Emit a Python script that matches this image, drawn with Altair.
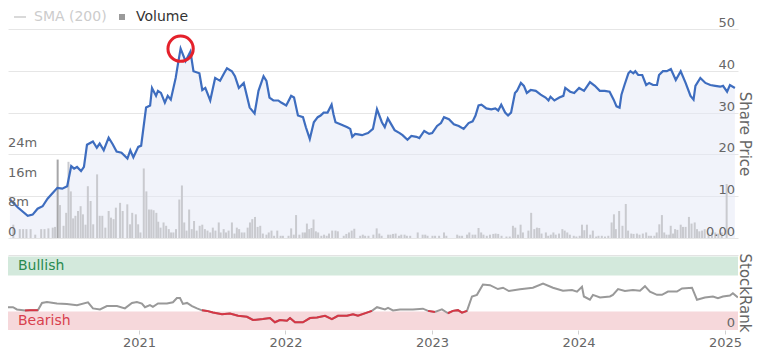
import altair as alt
import pandas as pd

# ---------------- data ----------------
price_year = [
    2020.085, 2020.140, 2020.208, 2020.242, 2020.276, 2020.311, 2020.345, 2020.379, 2020.413, 2020.447,
    2020.481, 2020.509, 2020.529, 2020.549, 2020.577, 2020.597, 2020.618, 2020.659, 2020.686, 2020.706,
    2020.734, 2020.768, 2020.795, 2020.823, 2020.857, 2020.898, 2020.918, 2020.939, 2020.973, 2020.993,
    2021.027, 2021.055, 2021.068, 2021.096, 2021.109, 2021.130, 2021.157, 2021.177, 2021.198, 2021.232,
    2021.246, 2021.266, 2021.300, 2021.334, 2021.355, 2021.396, 2021.416, 2021.437, 2021.471, 2021.505,
    2021.539, 2021.567, 2021.587, 2021.621, 2021.642, 2021.669, 2021.703, 2021.744, 2021.778, 2021.805,
    2021.840, 2021.860, 2021.881, 2021.908, 2021.942, 2021.962, 2021.997, 2022.031, 2022.051, 2022.078,
    2022.113, 2022.133, 2022.160, 2022.188, 2022.215, 2022.235, 2022.256, 2022.283, 2022.311, 2022.324,
    2022.338, 2022.372, 2022.420, 2022.440, 2022.454, 2022.474, 2022.495, 2022.522, 2022.543, 2022.563,
    2022.597, 2022.625, 2022.659, 2022.679, 2022.700, 2022.727, 2022.747, 2022.782, 2022.802, 2022.836,
    2022.863, 2022.898, 2022.918, 2022.952, 2022.986, 2023.007, 2023.041, 2023.068, 2023.089, 2023.123,
    2023.157, 2023.191, 2023.225, 2023.259, 2023.287, 2023.307, 2023.328, 2023.348, 2023.382, 2023.416,
    2023.444, 2023.464, 2023.485, 2023.512, 2023.532, 2023.553, 2023.580, 2023.594, 2023.621, 2023.642,
    2023.662, 2023.689, 2023.724, 2023.758, 2023.792, 2023.812, 2023.826, 2023.853, 2023.887, 2023.915,
    2023.928, 2023.962, 2023.990, 2024.024, 2024.058, 2024.099, 2024.133, 2024.167, 2024.201, 2024.235,
    2024.263, 2024.283, 2024.304, 2024.317, 2024.338, 2024.365, 2024.379, 2024.399, 2024.413, 2024.433,
    2024.461, 2024.488, 2024.509, 2024.536, 2024.563, 2024.577, 2024.604, 2024.631, 2024.659, 2024.693,
    2024.727, 2024.761, 2024.795, 2024.816, 2024.829, 2024.863, 2024.898, 2024.932, 2024.966, 2025.000,
    2025.020, 2025.048, 2025.068, 2025.102,
]
price_value = [
    9.2, 7.3, 5.3, 5.6, 7.0, 7.6, 9.4, 10.7, 12.0, 11.8,
    12.4, 17.2, 16.6, 17.0, 16.0, 17.0, 22.3, 23.1, 21.6, 22.6,
    21.0, 24.0, 22.5, 20.7, 20.4, 19.0, 21.0, 19.3, 21.8, 22.1,
    31.2, 31.7, 35.9, 34.0, 35.2, 34.7, 32.4, 34.0, 33.1, 38.3,
    41.3, 45.3, 42.3, 44.6, 39.9, 39.4, 35.4, 35.9, 32.9, 38.3,
    37.6, 39.4, 40.6, 39.9, 38.7, 35.9, 37.1, 31.2, 29.8, 35.2,
    38.7, 37.6, 33.6, 32.9, 32.9, 32.4, 31.7, 34.0, 33.6, 29.3,
    28.9, 26.5, 23.7, 27.7, 28.9, 29.3, 30.0, 30.0, 31.9, 29.6,
    27.7, 27.2, 26.5, 26.1, 24.2, 24.9, 24.8, 24.6, 24.9, 25.1,
    26.1, 30.8, 27.7, 26.5, 28.6, 27.0, 25.8, 25.1, 24.6, 23.5,
    24.4, 24.2, 23.9, 25.6, 24.9, 25.1, 26.8, 27.5, 28.9, 28.4,
    27.2, 26.8, 26.1, 27.5, 27.9, 29.3, 31.7, 31.9, 31.0, 30.8,
    31.0, 30.5, 31.9, 30.0, 29.3, 30.0, 34.7, 35.2, 37.1, 36.4,
    34.7, 35.4, 35.2, 34.3, 33.6, 32.9, 33.8, 32.9, 33.6, 34.0,
    35.9, 35.0, 34.7, 35.9, 35.2, 37.3, 36.4, 35.2, 35.2, 35.0,
    33.1, 31.5, 31.2, 34.3, 36.6, 39.4, 39.9, 39.4, 39.9, 39.0,
    39.0, 36.6, 37.1, 36.6, 36.6, 39.0, 39.9, 39.9, 40.4, 37.8,
    39.9, 37.1, 34.0, 33.1, 36.4, 38.3, 37.1, 36.6, 36.4, 36.2,
    36.4, 35.0, 36.6, 35.9,
]

# volume in millions
vol_year = [
    2020.108, 2020.153, 2020.176, 2020.199, 2020.228, 2020.260, 2020.301, 2020.324, 2020.351, 2020.381,
    2020.397, 2020.415, 2020.431, 2020.456, 2020.474, 2020.490, 2020.506, 2020.522, 2020.538, 2020.556,
    2020.574, 2020.590, 2020.608, 2020.624, 2020.643, 2020.661, 2020.688, 2020.706, 2020.724, 2020.745,
    2020.768, 2020.784, 2020.802, 2020.818, 2020.847, 2020.865, 2020.897, 2020.916, 2020.931, 2020.956,
    2020.972, 2020.988, 2021.011, 2021.029, 2021.047, 2021.063, 2021.079, 2021.098, 2021.111, 2021.127,
    2021.148, 2021.166, 2021.184, 2021.200, 2021.216, 2021.234, 2021.257, 2021.275, 2021.291, 2021.307,
    2021.325, 2021.343, 2021.359, 2021.377, 2021.398, 2021.416, 2021.434, 2021.452, 2021.471, 2021.489,
    2021.507, 2021.530, 2021.543, 2021.564, 2021.580, 2021.598, 2021.621, 2021.639, 2021.655, 2021.671,
    2021.689, 2021.707, 2021.730, 2021.746, 2021.762, 2021.781, 2021.799, 2021.817, 2021.835, 2021.860,
    2021.876, 2021.895, 2021.913, 2021.935, 2021.958, 2021.974, 2022.013, 2022.031, 2022.049, 2022.065,
    2022.088, 2022.111, 2022.127, 2022.140, 2022.156, 2022.172, 2022.186, 2022.202, 2022.218, 2022.240,
    2022.259, 2022.277, 2022.293, 2022.315, 2022.338, 2022.354, 2022.395, 2022.413, 2022.431, 2022.450,
    2022.468, 2022.509, 2022.527, 2022.543, 2022.566, 2022.600, 2022.623, 2022.641, 2022.657, 2022.702,
    2022.718, 2022.736, 2022.754, 2022.777, 2022.793, 2022.816, 2022.832, 2022.855, 2022.907, 2022.941,
    2022.959, 2022.975, 2023.009, 2023.027, 2023.055, 2023.089, 2023.105, 2023.180, 2023.196, 2023.214,
    2023.248, 2023.264, 2023.287, 2023.305, 2023.328, 2023.346, 2023.362, 2023.385, 2023.407, 2023.430,
    2023.446, 2023.464, 2023.487, 2023.521, 2023.544, 2023.566, 2023.582, 2023.601, 2023.619, 2023.635,
    2023.673, 2023.692, 2023.714, 2023.732, 2023.748, 2023.764, 2023.794, 2023.810, 2023.828, 2023.846,
    2023.862, 2023.885, 2023.908, 2023.924, 2023.942, 2023.960, 2023.987, 2024.005, 2024.028, 2024.044,
    2024.060, 2024.078, 2024.101, 2024.119, 2024.142, 2024.158, 2024.181, 2024.203, 2024.226, 2024.249,
    2024.265, 2024.278, 2024.301, 2024.324, 2024.347, 2024.363, 2024.385, 2024.401, 2024.424, 2024.442,
    2024.465, 2024.488, 2024.506, 2024.522, 2024.545, 2024.561, 2024.579, 2024.597, 2024.613, 2024.629,
    2024.647, 2024.658, 2024.674, 2024.688, 2024.704, 2024.727, 2024.743, 2024.761, 2024.784, 2024.802,
    2024.824, 2024.840, 2024.856, 2024.875, 2024.893, 2024.920, 2024.943, 2024.966, 2024.988, 2025.011,
    2025.045,
]
vol_value = [
    3.6, 2.4, 2.4, 2.4, 2.4, 0.9, 2.4, 2.4, 2.6, 2.8,
    3.0, 21.2, 8.9, 3.3, 6.8, 20.6, 12.6, 5.3, 6.0, 7.3,
    8.6, 6.4, 3.6, 14.0, 10.0, 3.7, 17.2, 6.0, 6.0, 2.8,
    7.3, 5.5, 5.1, 8.2, 9.5, 7.3, 9.1, 3.7, 6.8, 6.4,
    3.7, 1.5, 18.8, 12.6, 7.7, 7.7, 7.5, 6.8, 4.4, 2.8,
    4.2, 3.3, 2.4, 1.5, 1.5, 2.4, 10.4, 14.2, 4.2, 2.0,
    7.7, 2.4, 4.6, 2.0, 3.3, 3.6, 2.4, 2.0, 1.5, 2.8,
    2.0, 4.2, 1.5, 2.4, 1.5, 2.0, 4.2, 1.2, 2.8, 2.4,
    1.5, 1.5, 2.8, 4.2, 5.1, 5.7, 3.0, 3.3, 1.2, 0.9,
    1.5, 2.0, 0.6, 2.0, 0.6, 0.6, 0.6, 2.6, 0.9, 6.2,
    0.9, 1.5, 1.5, 3.9, 2.4, 2.7, 5.0, 1.8, 1.5, 0.6,
    0.9, 0.6, 1.2, 2.0, 2.0, 1.8, 0.6, 1.1, 1.5, 2.0,
    2.5, 0.6, 0.9, 0.6, 0.6, 0.9, 2.6, 1.2, 0.6, 0.9,
    0.9, 1.1, 1.2, 0.6, 0.9, 0.9, 0.6, 0.6, 1.5, 0.9,
    0.9, 0.6, 0.6, 0.6, 0.6, 1.5, 0.6, 0.9, 0.6, 0.6,
    0.9, 1.5, 0.9, 0.9, 2.7, 1.5, 0.9, 0.6, 0.9, 1.1,
    1.2, 1.1, 0.6, 0.4, 0.4, 3.3, 2.8, 0.9, 3.6, 1.5,
    2.0, 6.8, 2.4, 2.8, 2.7, 1.2, 1.5, 0.6, 0.9, 1.5,
    0.9, 1.2, 2.4, 2.0, 1.5, 0.9, 0.6, 0.4, 0.6, 3.6,
    2.1, 3.6, 0.9, 2.0, 0.4, 0.6, 0.6, 0.4, 0.6, 4.2,
    6.4, 2.4, 7.3, 3.3, 9.2, 2.0, 1.2, 1.1, 1.2, 0.9,
    1.2, 1.5, 0.6, 0.6, 0.6, 1.5, 3.7, 6.2, 1.5, 0.9,
    0.9, 3.3, 1.2, 2.4, 2.2, 3.6, 3.0, 3.0, 5.7, 3.9,
    4.2, 2.4, 1.8, 2.0, 2.4, 1.2, 1.5, 1.5, 1.2, 1.5,
    14.6,
]
highlight_year = 2020.415  # the darker (hovered) volume bar

rank_year = [
    2020.085, 2020.140, 2020.167, 2020.222, 2020.256, 2020.310, 2020.338, 2020.372, 2020.440, 2020.508,
    2020.577, 2020.652, 2020.686, 2020.734, 2020.781, 2020.850, 2020.904, 2020.952, 2020.986, 2021.020,
    2021.041, 2021.075, 2021.095, 2021.130, 2021.191, 2021.232, 2021.259, 2021.280, 2021.300, 2021.328,
    2021.362, 2021.396, 2021.430, 2021.464, 2021.505, 2021.567, 2021.621, 2021.676, 2021.737, 2021.778,
    2021.846, 2021.894, 2021.928, 2021.962, 2022.010, 2022.031, 2022.065, 2022.119, 2022.167, 2022.215,
    2022.270, 2022.317, 2022.358, 2022.420, 2022.461, 2022.495, 2022.556, 2022.590, 2022.625, 2022.679,
    2022.700, 2022.734, 2022.782, 2022.829, 2022.870, 2022.938, 2022.973, 2023.020, 2023.068, 2023.109,
    2023.143, 2023.177, 2023.205, 2023.239, 2023.273, 2023.307, 2023.348, 2023.396, 2023.450, 2023.485,
    2023.525, 2023.601, 2023.689, 2023.758, 2023.826, 2023.894, 2023.956, 2023.990, 2024.024, 2024.037,
    2024.078, 2024.099, 2024.147, 2024.215, 2024.235, 2024.270, 2024.317, 2024.372, 2024.420, 2024.454,
    2024.488, 2024.536, 2024.570, 2024.611, 2024.672, 2024.707, 2024.775, 2024.809, 2024.863, 2024.918,
    2024.952, 2024.986, 2025.034, 2025.054, 2025.088,
]
rank_value = [
    31, 31, 28, 26.5, 27, 27, 36.8, 38, 36, 35.5,
    33.8, 37.7, 29.4, 28, 32.5, 32.5, 29.4, 36.8, 38, 36,
    31, 33.8, 31.6, 36, 36, 37.7, 43.4, 43.4, 35.5, 36.8,
    32.5, 29.4, 26.7, 26, 23.7, 21.5, 22.4, 19.3, 18, 13.6,
    14.9, 16.2, 10.5, 13.6, 12.7, 16.2, 10.5, 10.5, 16.2, 17.1,
    19.3, 14.9, 19.3, 19.3, 21.5, 19.3, 23.7, 26, 31, 28,
    30, 26.7, 28, 28, 28, 29, 26, 24.6, 28, 22.8,
    26, 27, 23.7, 26, 45.6, 47.8, 61.8, 61, 55.7, 57.5,
    53, 55.3, 57.5, 63.2, 57.5, 53.5, 54.3, 52.2, 58.8, 45.6,
    41.2, 47.8, 44.3, 45.6, 47.8, 55.7, 53, 54.3, 53.5, 59.6,
    52.2, 47.8, 47.8, 52.2, 52.2, 56.6, 57.5, 41.2, 44.3, 45.6,
    43.4, 45.6, 47, 50, 44.3,
]

year_ticks = [2021, 2022, 2023, 2024, 2025]
price_ticks = [0, 10, 20, 30, 40, 50]
price_tick_labels = ["0.00", "10", "20", "30", "40", "50"]
volume_ticks = [0, 8, 16, 24]
volume_tick_labels = ["0", "8m", "16m", "24m"]
band_names = ["Bullish", "Bearish"]
band_low = [74, 0]
band_high = [100, 25]
legend_labels = ["SMA (200)", "Volume"]

# ---------------- styling ----------------
FONT = "DejaVu Sans"
W, TOP_H, BOT_H = 730, 209, 75
X_DOMAIN = [2020.106, 2025.089]
RED_BELOW = 27.5
GREY_TXT = "#666666"
LEG_Y = -12

price_df = pd.DataFrame({"year": price_year, "price": price_value})
vol_df = pd.DataFrame({"year": vol_year, "volume": vol_value})
vol_df["fill"] = ["#a6a6a8" if y == highlight_year else "#c9cacf" for y in vol_df["year"]]
peak_df = price_df.loc[[price_df["price"].idxmax()]]

rank_df = pd.DataFrame({"year": rank_year, "rank": rank_value})
is_red = rank_df["rank"] < RED_BELOW
rank_df["seg"] = (~is_red).cumsum()
red_df = rank_df[is_red]

band_df = pd.DataFrame({"name": band_names, "lo": band_low, "hi": band_high,
                        "fill": ["#d3e9dc", "#f6d8db"], "tcolor": ["#2a8a4f", "#d8404d"]})
band_df["mid"] = (band_df["lo"] + band_df["hi"]) / 2
band_df["x0"] = X_DOMAIN[0]
band_df["x1"] = X_DOMAIN[1]

xs = alt.Scale(domain=X_DOMAIN, nice=False, zero=False)
ps = alt.Scale(domain=[0, 50], nice=False, zero=False)
vs = alt.Scale(domain=[0, 56.5], nice=False)
rs = alt.Scale(domain=[0, 102], nice=False)

x_top = alt.X("year:Q", scale=xs, axis=None)

price_axis = alt.Axis(orient="right", values=price_ticks, labels=False, ticks=False, domain=False,
                      grid=True, gridColor="#e6e6e6", title="Share Price", titleAngle=90,
                      titleFontSize=15, titleFontWeight="normal", titleColor=GREY_TXT,
                      titlePadding=-2, titleFont=FONT)

area = alt.Chart(price_df).mark_area(color="#e3e8f6", opacity=0.5, clip=True).encode(
    x=x_top, y=alt.Y("price:Q", scale=ps, axis=price_axis))
bars = alt.Chart(vol_df).mark_bar(size=2, clip=True).encode(
    x=x_top, y=alt.Y("volume:Q", scale=vs, axis=None), color=alt.Color("fill:N", scale=None))
line = alt.Chart(price_df).mark_line(color="#3e6dbf", strokeWidth=2.2, clip=True).encode(
    x=x_top, y=alt.Y("price:Q", scale=ps, axis=None))
ring = alt.Chart(peak_df).mark_point(shape="circle", filled=False, size=640, strokeWidth=3,
                                     color="#e4212b", opacity=1).encode(
    x=x_top, y=alt.Y("price:Q", scale=ps, axis=None))

price_lab = alt.Chart(pd.DataFrame({"v": price_ticks, "t": price_tick_labels})).mark_text(
    align="right", baseline="alphabetic", dx=-3, dy=-2, fontSize=13, color=GREY_TXT, font=FONT).encode(
    x=alt.value(W), y=alt.Y("v:Q", scale=ps, axis=None), text="t:N")
vol_lab = alt.Chart(pd.DataFrame({"v": volume_ticks, "t": volume_tick_labels})).mark_text(
    align="left", baseline="alphabetic", dy=-2, fontSize=13, color=GREY_TXT, font=FONT).encode(
    x=alt.value(0), y=alt.Y("v:Q", scale=vs, axis=None), text="t:N")

leg_df = pd.DataFrame({"t": [legend_labels[0]]})
leg_rule = alt.Chart(leg_df).mark_rule(color="#cccccc", strokeWidth=1.5).encode(
    x=alt.value(6), x2=alt.value(18), y=alt.value(LEG_Y))
leg_sma = alt.Chart(leg_df).mark_text(align="left", baseline="middle", fontSize=14,
                                      color="#cccccc", font=FONT).encode(
    x=alt.value(26), y=alt.value(LEG_Y), text="t:N")
leg_sq = alt.Chart(leg_df).mark_point(shape="square", filled=True, size=36, color="#9a9a9a",
                                      opacity=1).encode(x=alt.value(114), y=alt.value(LEG_Y))
leg_vol = alt.Chart(pd.DataFrame({"t": [legend_labels[1]]})).mark_text(
    align="left", baseline="middle", fontSize=14, color="#333333", font=FONT).encode(
    x=alt.value(128), y=alt.value(LEG_Y), text="t:N")

top = alt.layer(area, bars, line, ring, price_lab, vol_lab, leg_rule, leg_sma, leg_sq, leg_vol
                ).resolve_scale(y="independent").properties(width=W, height=TOP_H)

# ---------------- StockRank panel ----------------
x_axis = alt.Axis(values=year_ticks, format="d", grid=False, domain=False, ticks=True,
                  tickColor="#d0d0d0", tickSize=4, labelPadding=2, labelColor=GREY_TXT,
                  labelFontSize=13, labelFont=FONT, title=None)
rank_axis = alt.Axis(orient="right", values=[102], labels=False, ticks=False, domain=False,
                     grid=True, gridColor="#e3e3e3", title="StockRank", titleAngle=90,
                     titleFontSize=15, titleFontWeight="normal", titleColor=GREY_TXT,
                     titlePadding=-2, titleFont=FONT)

rects = alt.Chart(band_df).mark_rect().encode(
    x=alt.X("x0:Q", scale=xs, axis=x_axis), x2="x1",
    y=alt.Y("lo:Q", scale=rs, axis=rank_axis), y2="hi",
    color=alt.Color("fill:N", scale=None))
band_txt = alt.Chart(band_df).mark_text(align="left", baseline="middle", fontSize=14, font=FONT).encode(
    x=alt.value(10), y=alt.Y("mid:Q", scale=rs), text="name:N", color=alt.Color("tcolor:N", scale=None))
grey_line = alt.Chart(rank_df).mark_line(color="#999999", strokeWidth=2, clip=True).encode(
    x=alt.X("year:Q", scale=xs), y=alt.Y("rank:Q", scale=rs))
red_line = alt.Chart(red_df).mark_line(color="#d63645", strokeWidth=2, clip=True).encode(
    x=alt.X("year:Q", scale=xs), y=alt.Y("rank:Q", scale=rs), detail="seg:N")
zero_lab = alt.Chart(pd.DataFrame({"v": [0], "t": ["0"]})).mark_text(
    align="right", baseline="alphabetic", dx=-3, dy=-3, fontSize=13, color=GREY_TXT, font=FONT).encode(
    x=alt.value(W), y=alt.Y("v:Q", scale=rs), text="t:N")

bottom = alt.layer(rects, band_txt, grey_line, red_line, zero_lab).properties(width=W, height=BOT_H)

chart = alt.vconcat(top, bottom, spacing=14).properties(
    padding={"left": 0, "top": 2, "right": 2, "bottom": 0}).configure(
    font=FONT).configure_view(stroke=None)

chart.save("out.html", embed_options={"renderer": "svg", "actions": False})
